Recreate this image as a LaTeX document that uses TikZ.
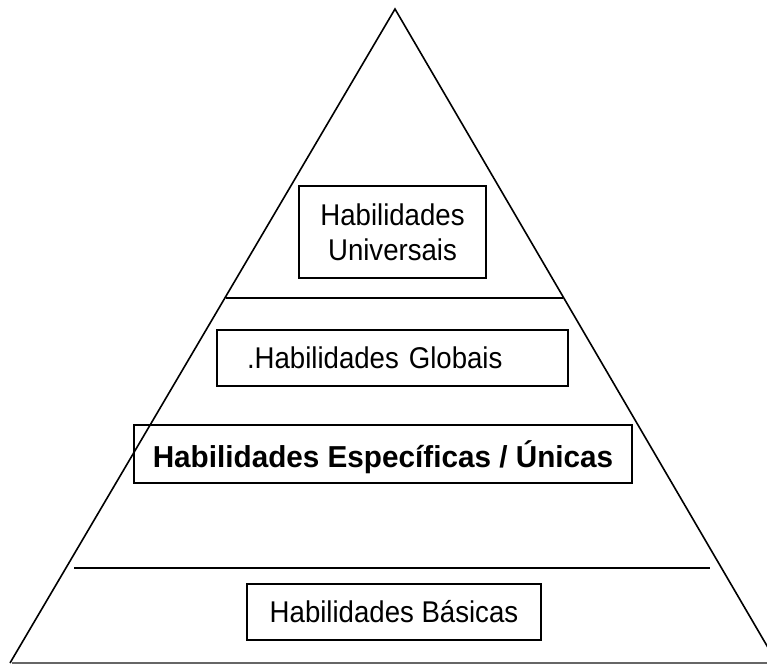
\documentclass[tikz,border=0pt]{standalone}
\usepackage{fontspec}
\setmainfont{Liberation Sans}
\newfontfamily\nivelfont{Liberation Sans}[FakeStretch=0.92]
\newfontfamily\destaquefont{Liberation Sans Bold}[FakeStretch=0.98]
\usetikzlibrary{positioning}

\begin{document}
\begin{tikzpicture}[x=1pt, y=-1pt,
    nivel/.style={draw, line width=1.5pt, inner sep=0pt, font=\nivelfont\fontsize{30}{35}\selectfont},
    divisa/.style={line width=1.8pt}]
  \useasboundingbox (0,0) rectangle (767,664);
  \clip (0,0) rectangle (767,664);
  % piramide
  \coordinate (topo) at (395,9);
  \coordinate (baseE) at (10,663);
  \coordinate (baseD) at (777,663);
  \coordinate (chaoE) at (12,663);
  \coordinate (chaoD) at (767,663);
  \draw[line width=1.6pt] (baseE) -- (topo) -- (baseD);
  \draw[black!60, line width=1.6pt] (chaoE) -- (chaoD);
  % divisorias
  \coordinate (div1E) at (226,298);
  \coordinate (div1D) at (563,298);
  \coordinate (div2E) at (74,568);
  \coordinate (div2D) at (710,568);
  \draw[divisa] (div1E) -- (div1D);
  \draw[divisa] (div2E) -- (div2D);
  % niveis
  \node[nivel, minimum width=187pt, minimum height=92pt, align=center] (universais) at (392.5,232) {Habilidades\\Universais};
  \node[nivel, minimum height=56pt, text width=291pt, inner xsep=30pt, align=left] (globais) at (392.5,358) {.Habilidades Globais};
  \node[nivel, minimum width=498pt, minimum height=58pt, text depth=0pt, font=\destaquefont\fontsize{30.3}{35}\selectfont] (especificas) at (383,454) {Habilidades Específicas / Únicas};
  \node[nivel, minimum width=294pt, minimum height=56pt] (basicas) at (394,612) {Habilidades Básicas};
\end{tikzpicture}
\end{document}
